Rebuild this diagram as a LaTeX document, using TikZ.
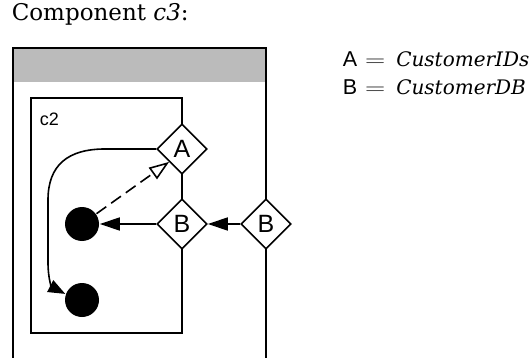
\documentclass[tikz,border=0pt]{standalone}
\usepackage{fontspec}
\setmainfont{DejaVu Serif}
\setsansfont{Liberation Sans}
\usetikzlibrary{shapes.geometric,arrows.meta}
\definecolor{band}{RGB}{187,187,187}
\tikzstyle{port}=[draw=black,fill=white,diamond,minimum width=50pt,minimum height=50pt,inner sep=0pt,font=\sffamily\fontsize{25}{25}\selectfont]
\tikzstyle{state}=[circle,fill=black,minimum size=34pt,inner sep=0pt]
\tikzstyle{flow}=[-{Triangle[length=20pt,width=13pt]}]
\tikzstyle{dep}=[dash pattern=on 12pt off 6pt,-{Triangle[open,length=20pt,width=14pt]}]
\tikzstyle{legend}=[anchor=base west,inner sep=0pt,font=\fontsize{21.5}{21.5}\selectfont]
\newcommand{\keyeq}{\hspace{8pt}\scalebox{1.35}[1]{$=$}\hspace{11pt}}

\begin{document}
\begin{tikzpicture}[x=1pt,y=-1pt,line width=1.6pt]
  \useasboundingbox (0,0) rectangle (529,358);
  \node[legend,font=\fontsize{23}{23}\selectfont] (title) at (11,21) {Component \textit{c3}:};
  \fill[band] (13,48) rectangle (266,82);
  \draw (13,358) |- (266,48) -- (266,358);
  \node[draw,minimum width=151pt,minimum height=235pt,inner sep=0pt] (c2) at (106.5,215.5) {};
  \node[anchor=base west,inner sep=0pt,font=\sffamily\fontsize{18}{18}\selectfont] (c2name) at (39,126) {c2};
  \node[port] (A) at (182,149) {A};
  \node[port] (Bin) at (182,224) {B};
  \node[port] (Bout) at (266,224) {B};
  \node[state] (s1) at (82,224) {};
  \node[state] (s2) at (82,300) {};
  \draw[flow] (Bout) -- (Bin);
  \draw[flow] (Bin) -- (s1);
  \draw[dep] (s1) -- (A.south west);
  \draw[-{Triangle[length=17pt,width=13pt]}] (A.west) -- (105,149)
    .. controls (68,149) and (48,165) .. (48,200) -- (48,262)
    .. controls (48,280) and (52,287) .. (s2.160);
  \node[legend] (keyA) at (342,67) {\textsf{A}\keyeq{\fontsize{20}{20}\selectfont\itshape CustomerIDs}};
  \node[legend] (keyB) at (342,95) {\textsf{B}\keyeq{\fontsize{20}{20}\selectfont\itshape CustomerDB}};
\end{tikzpicture}
\end{document}
